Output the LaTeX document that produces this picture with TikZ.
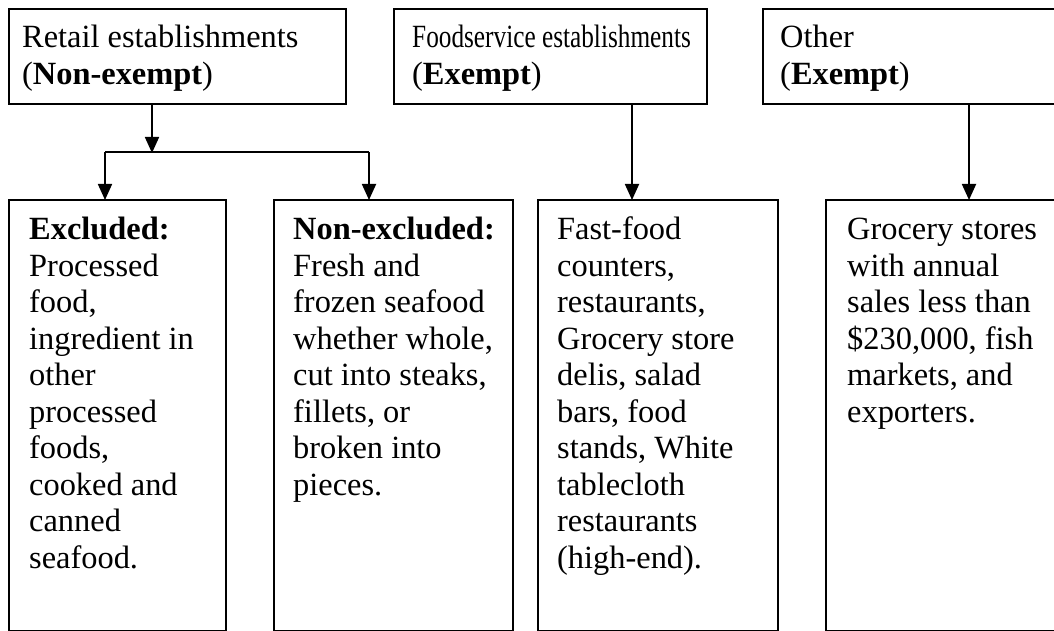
\documentclass[tikz,border=0pt]{standalone}
\usepackage{fontspec}
\setmainfont{Liberation Serif}
\usetikzlibrary{arrows.meta}
\tikzset{
  box/.style={draw=black, line width=1.8pt, rectangle, inner sep=0pt, anchor=north west},
  txt/.style={anchor=base west, inner sep=0pt, font=\fontsize{32.4pt}{36.5pt}\selectfont},
  arr/.style={line width=1.8pt, -{Triangle[width=14pt,length=16pt]}, shorten >=-1pt},
  ln/.style={line width=1.8pt}
}
\newcommand{\tb}[1]{\parbox[t]{420pt}{\raggedright #1}}
\begin{document}
\begin{tikzpicture}[x=1pt,y=-1pt]
\useasboundingbox (0,0) rectangle (1054,631);
\fill[white] (0,0) rectangle (1054,631);
\begin{scope}
\clip (0,0) rectangle (1054,631);
% top boxes
\node[box, minimum width=337pt, minimum height=95pt] (ret) at (8,8) {};
\node[box, minimum width=313pt, minimum height=95pt] (fs) at (393,8) {};
\node[box, minimum width=330pt, minimum height=95pt] (oth) at (762,8) {};
% bottom boxes
\node[box, minimum width=217pt, minimum height=431pt] (exc) at (8,199) {};
\node[box, minimum width=239pt, minimum height=431pt] (nex) at (273,199) {};
\node[box, minimum width=240pt, minimum height=431pt] (ffd) at (537,199) {};
\node[box, minimum width=260pt, minimum height=431pt] (gro) at (825,199) {};
\end{scope}
% header texts
\node[txt] (tret) at (22,48) {\tb{Retail establishments\\(\textbf{Non-exempt})}};
\node[txt] (tfs) at (412,48) {\tb{\scalebox{0.78}[1]{Foodservice establishments}\\(\textbf{Exempt})}};
\node[txt] (toth) at (780,48) {\tb{Other\\(\textbf{Exempt})}};
% bottom texts
\node[txt] (texc) at (29,239.5) {\tb{\textbf{Excluded:}\\Processed\\food,\\ingredient in\\other\\processed\\foods,\\cooked and\\canned\\seafood.}};
\node[txt] (tnex) at (293,239.5) {\tb{\textbf{Non-excluded:}\\Fresh and\\frozen seafood\\whether whole,\\cut into steaks,\\fillets, or\\broken into\\pieces.}};
\node[txt] (tffd) at (557,239.5) {\tb{Fast-food\\counters,\\restaurants,\\Grocery store\\delis, salad\\bars, food\\stands, White\\tablecloth\\restaurants\\(high-end).}};
\node[txt] (tgro) at (847,239.5) {\tb{Grocery stores\\with annual\\sales less than\\\$230,000, fish\\markets, and\\exporters.}};
% connectors
\coordinate (jm) at (152,152);
\coordinate (jl) at (105,152);
\coordinate (jr) at (369,152);
\coordinate (cf) at (632,0);
\coordinate (co) at (969,0);
\draw[arr] (ret.south -| jm) -- (jm);
\draw[ln] (jl) -- (jr);
\draw[arr] (jl) -- (jl |- exc.north);
\draw[arr] (jr) -- (jr |- nex.north);
\draw[arr] (fs.south -| cf) -- (ffd.north -| cf);
\draw[arr] (oth.south -| co) -- (gro.north -| co);
\end{tikzpicture}
\end{document}
